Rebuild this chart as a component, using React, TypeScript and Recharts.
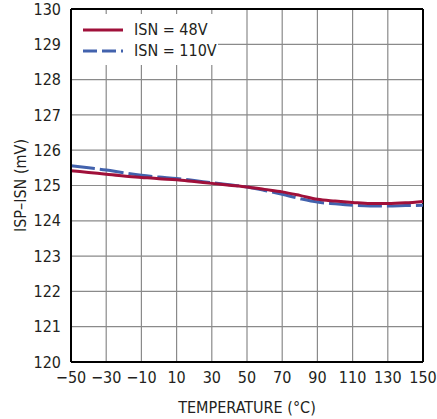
import React from 'react'
import { LineChart, Line, XAxis, YAxis, CartesianGrid, Legend, ReferenceLine, Label } from 'recharts'

const temps = [-50, -40, -30, -20, -10, 0, 10, 20, 30, 40, 50, 60, 70, 80, 90, 100, 110, 120, 130, 140, 150]
const isn48 = [125.42, 125.37, 125.32, 125.27, 125.23, 125.19, 125.16, 125.11, 125.06, 125.01, 124.96, 124.89, 124.82, 124.72, 124.61, 124.56, 124.52, 124.49, 124.49, 124.51, 124.55]
const isn110 = [125.56, 125.5, 125.44, 125.36, 125.29, 125.24, 125.2, 125.14, 125.08, 125.02, 124.96, 124.86, 124.75, 124.63, 124.53, 124.48, 124.44, 124.42, 124.42, 124.43, 124.44]
const xTicks = [-50, -30, -10, 10, 30, 50, 70, 90, 110, 130, 150]
const yTicks = [120, 121, 122, 123, 124, 125, 126, 127, 128, 129, 130]

const RED = '#a0103a'
const BLUE = '#4262ad'
const FONT = '"DejaVu Sans Condensed", "Liberation Sans", sans-serif'

const data = temps.map((t, i) => ({ t, a: isn48[i], b: isn110[i] }))

const fmtX = (v: number) => (v < 0 ? '\u2212' + Math.abs(v) : String(v))

function LegendBox() {
  const items = [
    { label: 'ISN = 48V', color: RED, dash: undefined },
    { label: 'ISN = 110V', color: BLUE, dash: '14 5' },
  ]
  return (
    <div style={{ background: '#fff', width: 146, height: 51, paddingTop: 5, boxSizing: 'border-box' }}>
      {items.map((it) => (
        <div key={it.label} style={{ display: 'flex', alignItems: 'center', height: 21, whiteSpace: 'nowrap' }}>
          <svg width={62} height={10} style={{ flexShrink: 0 }}>
            <line x1={11} x2={51} y1={5} y2={5} stroke={it.color} strokeWidth={3} strokeDasharray={it.dash} />
          </svg>
          <span style={{ fontFamily: FONT, fontSize: 16, color: '#231f20' }}>{it.label}</span>
        </div>
      ))}
    </div>
  )
}

export default function App() {
  return (
    <div style={{ position: 'absolute', left: 0, top: 0, background: '#fff' }}>
      <LineChart width={437} height={419} data={data} margin={{ top: 9, right: 14, left: 0, bottom: 0 }}>
        <CartesianGrid stroke="#8a8a8a" strokeWidth={1.2} />
        <XAxis
          dataKey="t"
          type="number"
          domain={[-50, 150]}
          ticks={xTicks}
          tickFormatter={fmtX}
          height={57}
          tickLine={false}
          tickSize={0}
          tickMargin={10}
          axisLine={{ stroke: '#000', strokeWidth: 2 }}
          tick={{ fill: '#231f20', fontSize: 16, fontFamily: FONT }}
        >
          <Label value="TEMPERATURE (°C)" position="insideBottom" offset={6} style={{ fill: '#231f20', fontSize: 16, fontFamily: FONT }} />
        </XAxis>
        <YAxis
          type="number"
          domain={[120, 130]}
          ticks={yTicks}
          width={71}
          tickLine={false}
          tickSize={0}
          tickMargin={10}
          axisLine={{ stroke: '#000', strokeWidth: 2 }}
          tick={{ fill: '#231f20', fontSize: 16, fontFamily: FONT }}
        >
          <Label value="ISP–ISN (mV)" angle={-90} position="insideLeft" offset={20} style={{ textAnchor: 'middle', fill: '#231f20', fontSize: 16, fontFamily: FONT }} />
        </YAxis>
        <ReferenceLine y={130} stroke="#000" strokeWidth={2} />
        <ReferenceLine x={150} stroke="#000" strokeWidth={2} />
        <Legend
          layout="vertical"
          align="center"
          verticalAlign="middle"
          wrapperStyle={{ left: 72, top: 14, width: 146, height: 51 }}
          content={() => <LegendBox />}
        />
        <Line dataKey="b" type="monotone" stroke={BLUE} strokeWidth={3} strokeDasharray="24 5" dot={false} isAnimationActive={false} />
        <Line dataKey="a" type="monotone" stroke={RED} strokeWidth={3} dot={false} isAnimationActive={false} />
      </LineChart>
    </div>
  )
}
